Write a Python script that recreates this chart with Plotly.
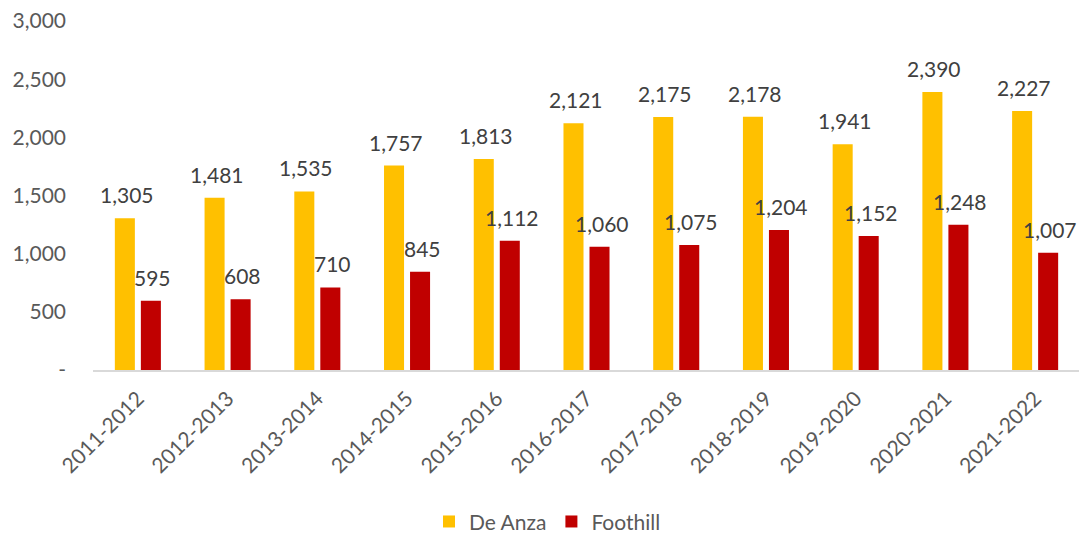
import plotly.graph_objects as go

years = ["2011-2012", "2012-2013", "2013-2014", "2014-2015", "2015-2016", "2016-2017",
         "2017-2018", "2018-2019", "2019-2020", "2020-2021", "2021-2022"]
de_anza = [1305, 1481, 1535, 1757, 1813, 2121, 2175, 2178, 1941, 2390, 2227]
foothill = [595, 608, 710, 845, 1112, 1060, 1075, 1204, 1152, 1248, 1007]
y_ticks = [0, 500, 1000, 1500, 2000, 2500, 3000]
y_ticktext = ["-", "500", "1,000", "1,500", "2,000", "2,500", "3,000"]

FONT = "Lato"
GREY = "#595959"
YELLOW = "#FFC000"
RED = "#C00000"

fig = go.Figure()
fig.add_trace(go.Bar(name="De Anza", x=years, y=de_anza, marker_color=YELLOW,
                     marker_line_width=0))
fig.add_trace(go.Bar(name="Foothill", x=years, y=foothill, marker_color=RED,
                     marker_line_width=0))

annotations = []
for series, shift in ((de_anza, -11), (foothill, 15)):
    for x, v in zip(years, series):
        annotations.append(dict(x=x, y=v, xref="x", yref="y", text=f"{v:,}",
                                showarrow=False, yanchor="bottom", xshift=shift,
                                yshift=9, font=dict(family=FONT, size=21, color="#404040")))

# page body has an 8px margin, so the figure is sized to fit the 1087x535 window
fig.update_layout(
    width=1079, height=527,
    margin=dict(l=85, r=7, t=13, b=165, autoexpand=False),
    paper_bgcolor="white", plot_bgcolor="white",
    barmode="group", bargap=0.42, bargroupgap=0.23,
    font=dict(family=FONT, size=21, color=GREY),
    showlegend=True,
    legend=dict(orientation="h", x=0.5, xanchor="center", xref="container",
                y=0.025, yanchor="middle", yref="container",
                font=dict(family=FONT, size=21, color=GREY), itemwidth=30,
                traceorder="normal"),
    annotations=annotations,
)
fig.update_xaxes(showline=True, linecolor="#D9D9D9", linewidth=2, tickangle=-45,
                 ticks="", showgrid=False, automargin=False, ticklabelstandoff=6,
                 tickfont=dict(family=FONT, size=21, color=GREY))
fig.update_yaxes(range=[0, 3000], tickvals=y_ticks, ticktext=y_ticktext, showgrid=False,
                 zeroline=False, showline=False, ticks="", ticklabelstandoff=26,
                 automargin=False, ticklabeloverflow="allow",
                 tickfont=dict(family=FONT, size=21, color=GREY))

fig.write_html("out.html")
